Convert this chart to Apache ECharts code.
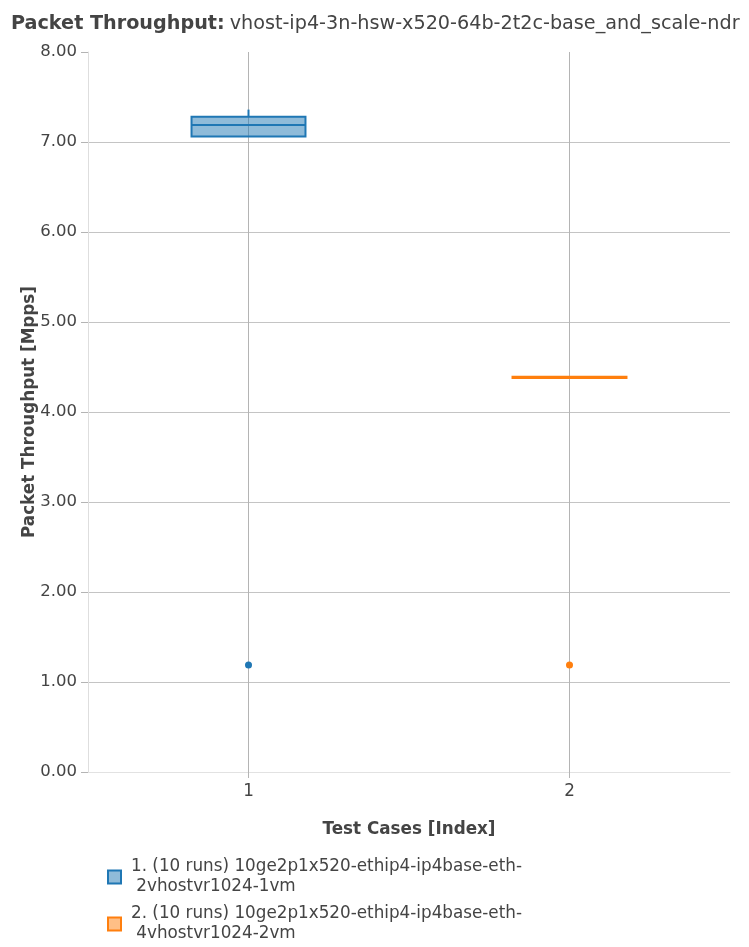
<!DOCTYPE html>
<html><head><meta charset="utf-8">
<script src="https://cdn.jsdelivr.net/npm/echarts@6/dist/echarts.min.js"></script>
<style>html,body{margin:0;padding:0;background:#fff}#c{width:749px;height:947px}</style>
</head><body><div id="c"></div>
<script>
const categories = ['1', '2'];
const seriesNames = [
  '1. (10 runs) 10ge2p1x520-ethip4-ip4base-eth-\n 2vhostvr1024-1vm',
  '2. (10 runs) 10ge2p1x520-ethip4-ip4base-eth-\n 4vhostvr1024-2vm'
];
const colors = ['#1f77b4', '#ff7f0e'];
const fills = ['rgba(31,119,180,0.5)', 'rgba(255,127,14,0.5)'];
// [lowerWhisker, q1, median, q3, upperWhisker]
const boxStats = [
  [7.06, 7.06, 7.19, 7.28, 7.36],
  [4.378, 4.378, 4.385, 4.392, 4.392]
];
const outliers = [
  [1.19],
  [1.19]
];
const yTicks = [0, 1, 2, 3, 4, 5, 6, 7, 8];

const FONT = 'DejaVu Sans';
const chart = echarts.init(document.getElementById('c'), null, {renderer: 'canvas'});

function boxRender(idx) {
  return function (params, api) {
    const ci = api.value(0);
    const s = boxStats[idx];
    const band = api.size([1, 0])[0];
    const w = band * 0.355;
    const c = api.coord([ci, s[2]]);
    const x0 = c[0] - w / 2;
    const yq1 = api.coord([ci, s[1]])[1];
    const yq3 = api.coord([ci, s[3]])[1];
    const ylo = api.coord([ci, s[0]])[1];
    const yhi = api.coord([ci, s[4]])[1];
    const ym = c[1];
    const st = {stroke: colors[idx], lineWidth: 2};
    return {
      type: 'group',
      children: [
        {type: 'line', shape: {x1: c[0], y1: yhi, x2: c[0], y2: yq3}, style: st},
        {type: 'line', shape: {x1: c[0], y1: ylo, x2: c[0], y2: yq1}, style: st},
        {type: 'rect', shape: {x: x0, y: yq3, width: w, height: Math.max(yq1 - yq3, 0)},
          style: {fill: fills[idx], stroke: colors[idx], lineWidth: 2}},
        {type: 'line', shape: {x1: x0, y1: ym, x2: x0 + w, y2: ym}, style: st}
      ]
    };
  };
}

const series = [];
series.push({
  type: 'scatter',
  data: [],
  silent: true,
  z: 0,
  markLine: {
    silent: true,
    symbol: 'none',
    z: 0,
    label: {show: false},
    lineStyle: {color: '#b4b4b4', width: 1, type: 'solid'},
    data: categories.map(function (c) { return {xAxis: c}; })
  }
});
categories.forEach(function (cat, i) {
  series.push({
    name: seriesNames[i],
    type: 'custom',
    renderItem: boxRender(i),
    data: [[i]],
    z: 5,
    itemStyle: {color: fills[i], borderColor: colors[i]}
  });
  series.push({
    name: seriesNames[i],
    type: 'scatter',
    data: outliers[i].map(function (v) { return [i, v]; }),
    symbolSize: 7,
    itemStyle: {color: colors[i], opacity: 1},
    z: 6
  });
});

chart.setOption({
  animation: false,
  backgroundColor: '#fff',
  title: {
    text: '{b|Packet Throughput:} {n|vhost-ip4-3n-hsw-x520-64b-2t2c-base_and_scale-ndr}',
    left: 6, top: 10,
    textStyle: {
      rich: {
        b: {fontFamily: FONT, fontWeight: 'bold', fontSize: 19.2, color: '#444'},
        n: {fontFamily: FONT, fontWeight: 'normal', fontSize: 19.2, color: '#444'}
      }
    }
  },
  grid: {left: 88, right: 19, top: 52, bottom: 175, containLabel: false},
  legend: {
    orient: 'vertical',
    left: 102, top: 852,
    height: 95,
    itemWidth: 13, itemHeight: 13,
    itemGap: 7,
    icon: 'rect',
    textStyle: {fontFamily: FONT, fontSize: 16.8, color: '#444', lineHeight: 20, padding: [0, 0, 0, 5]},
    data: seriesNames.map(function (n, i) {
      return {name: n, itemStyle: {color: fills[i], borderColor: colors[i], borderWidth: 2}};
    })
  },
  xAxis: {
    type: 'category',
    data: categories,
    boundaryGap: true,
    name: 'Test Cases [Index]',
    nameLocation: 'middle',
    nameGap: 49,
    nameMoveOverlap: false,
    nameTextStyle: {fontFamily: FONT, fontWeight: 'bold', fontSize: 16.8, color: '#444'},
    axisLine: {show: true, lineStyle: {color: '#e2e2e2'}},
    axisTick: {show: true, alignWithLabel: true, length: 6, lineStyle: {color: '#b4b4b4'}},
    axisLabel: {fontFamily: FONT, fontSize: 16.8, color: '#444', margin: 11},
    splitLine: {show: false}
  },
  yAxis: {
    type: 'value',
    min: 0, max: 8, interval: 1,
    name: 'Packet Throughput [Mpps]',
    nameLocation: 'middle',
    nameGap: 50,
    nameMoveOverlap: false,
    nameTextStyle: {fontFamily: FONT, fontWeight: 'bold', fontSize: 16.8, color: '#444'},
    axisLine: {show: true, lineStyle: {color: '#dedede'}},
    axisTick: {show: true, length: 7, lineStyle: {color: '#b4b4b4'}},
    axisLabel: {fontFamily: FONT, fontSize: 16.5, color: '#444', margin: 11,
      formatter: function (v) { return yTicks.indexOf(v) >= 0 ? v.toFixed(2) : ''; }},
    splitLine: {show: true, showMaxLine: false, showMinLine: false, lineStyle: {color: '#c4c4c4', width: 1}}
  },
  series: series
});
</script></body></html>
